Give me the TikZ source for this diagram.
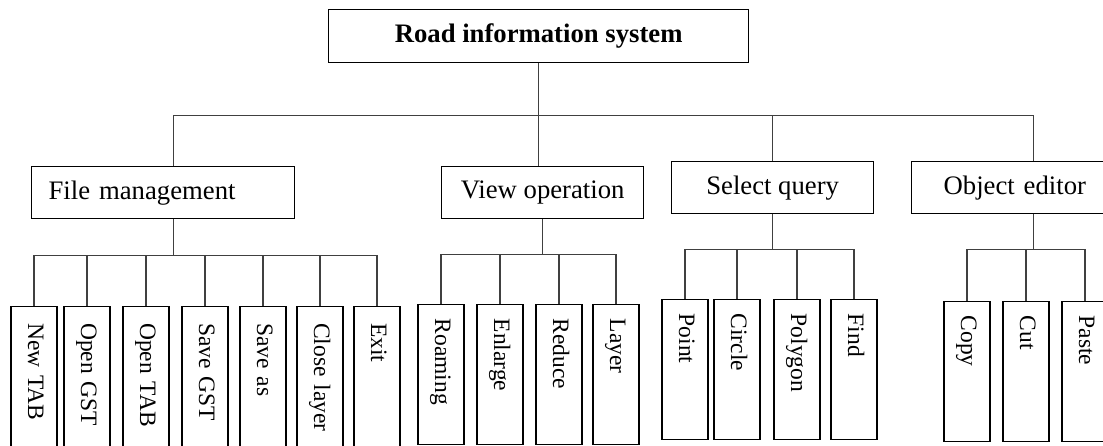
\documentclass[tikz,border=0pt]{standalone}
\usepackage{fontspec}
\setmainfont{Liberation Serif}
\usepackage{tikz}

\tikzset{
	rootbox/.style={draw, line width=1.3pt, anchor=north west, minimum width=420pt, minimum height=53pt, font=\fontsize{26.7}{30}\selectfont\bfseries},
	menubox/.style={draw, line width=1.3pt, anchor=north west, minimum height=52pt, font=\fontsize{26.7}{30}\selectfont},
	leaf/.style={draw, line width=1.3pt, rotate=-90, anchor=west, minimum height=46pt, minimum width=#1, inner xsep=14pt, text width=112pt, align=left, text height=17pt, text depth=5pt, font=\fontsize{23.5}{26}\selectfont},
	leaf/.default=140pt,
	link/.style={draw=black!75, line width=1.3pt},
}

\begin{document}
\begin{tikzpicture}[x=1pt, y=-1pt]
			\useasboundingbox (0,0) rectangle (1103,445);
			\clip (0,0) rectangle (1103,445);

			% Top level
			\node[rootbox] (ris) at (328,9) {Road information system};

			% Second level
			\node[menubox, inner xsep=17pt, text width=229pt, align=left] (fm) at (31,166) {File management};
			\node[menubox, minimum width=202pt] (vo) at (441,166) {View operation};
			\node[menubox, minimum width=202pt] (sq) at (671,161) {Select query};
			\node[menubox, inner xsep=32pt, text width=180pt, align=left] (oe) at (911,161) {Object editor};

			\path (ris.south) ++(0,52) coordinate (bus);
			\draw[link] (ris.south) -- (bus);
			\draw[link] ([xshift=10pt]fm.north) |- (bus) -| (oe.north);
			\draw[link] (bus) -- (vo.north -| bus);
			\draw[link] (sq.north) -- (sq.north |- bus);

			% File management
			\path ([xshift=10pt]fm.south) ++(0,36) coordinate (fmbus);
			\draw[link] ([xshift=10pt]fm.south) -- (fmbus);
			\foreach \nm/\x/\lbl in {nt/34/New TAB, og/87/Open GST, ot/146/Open TAB, sg/205/Save GST, sa/263/Save as, cl/320/Close layer, ex/377/Exit} {
				\node[leaf=145pt] (\nm) at (\x,306) {\lbl};
				\draw[link] (fmbus) -| (\nm.west);
			}

			% View operation
			\path (vo.south) ++(0,35) coordinate (vobus);
			\draw[link] (vo.south) -- (vobus);
			\foreach \nm/\x/\lbl in {ro/441/Roaming, en/500/Enlarge, re/559/Reduce, la/616/Layer} {
				\node[leaf=139pt] (\nm) at (\x,304) {\lbl};
				\draw[link] (vobus) -| (\nm.west);
			}

			% Select query
			\path (sq.south) ++(0,35) coordinate (sqbus);
			\draw[link] (sq.south) -- (sqbus);
			\foreach \nm/\x/\lbl in {pt/685/Point, ci/737/Circle, po/797/Polygon, fi/854/Find} {
				\node[leaf] (\nm) at (\x,299) {\lbl};
				\draw[link] (sqbus) -| (\nm.west);
			}

			% Object editor
			\path (oe.south) ++(0,35) coordinate (oebus);
			\draw[link] (oe.south) -- (oebus);
			\foreach \nm/\x/\lbl in {co/967/Copy, cu/1026/Cut, pa/1085/Paste} {
				\node[leaf] (\nm) at (\x,301) {\lbl};
				\draw[link] (oebus) -| (\nm.west);
			}

		\end{tikzpicture}
\end{document}
